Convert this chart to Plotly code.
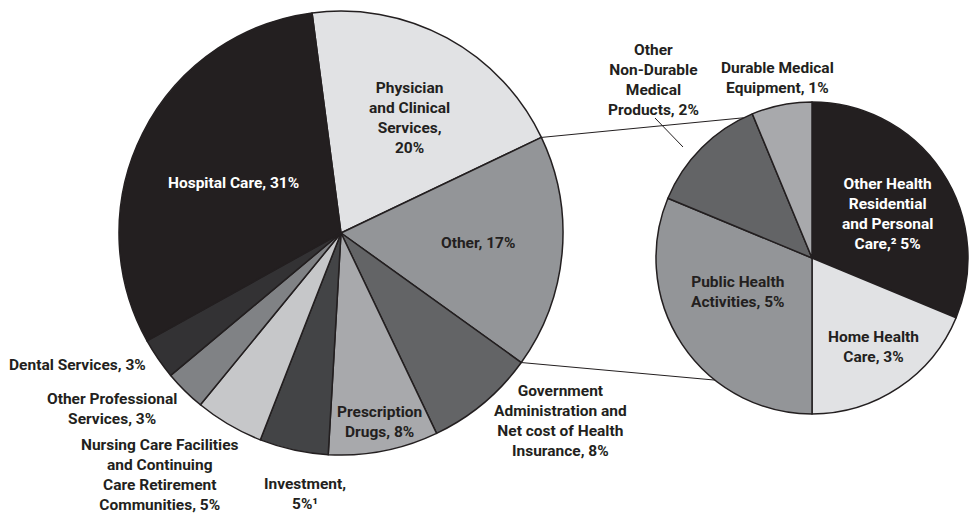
import math
import plotly.graph_objects as go

# National health expenditure shares (%)
main_labels = [
    "Physician and Clinical Services", "Other",
    "Government Administration and Net cost of Health Insurance",
    "Prescription Drugs", "Investment",
    "Nursing Care Facilities and Continuing Care Retirement Communities",
    "Other Professional Services", "Dental Services", "Hospital Care",
]
main_values = [20, 17, 8, 8, 5, 5, 3, 3, 31]
main_colors = ["#e1e2e4", "#939598", "#636466", "#a8a9ac", "#434446",
               "#c6c7c9", "#808285", "#333234", "#231f20"]

# Breakdown of the "Other" slice (%)
other_labels = [
    "Other Health Residential and Personal Care", "Home Health Care",
    "Public Health Activities", "Other Non-Durable Medical Products",
    "Durable Medical Equipment",
]
other_values = [5, 3, 5, 2, 1]
other_colors = ["#231f20", "#e1e2e4", "#939598", "#636466", "#a8a9ac"]

W, H = 975, 514
INK = "#231f20"

# pie geometry in pixels: centre x, centre y, radius
MAIN = (341, 233, 222)
SUB = (812, 258, 156)
MAIN_ROT = -7.5
SUB_ROT = 0


def domain(c):
    cx, cy, r = c
    return dict(x=[(cx - r) / W, (cx + r) / W],
                y=[(H - cy - r) / H, (H - cy + r) / H])


def rim(c, ang):
    cx, cy, r = c
    a = math.radians(ang)
    return cx + r * math.sin(a), cy - r * math.cos(a)


fig = go.Figure()
fig.add_trace(go.Pie(
    labels=main_labels, values=main_values, sort=False, direction="clockwise",
    rotation=MAIN_ROT, domain=domain(MAIN), textinfo="none",
    marker=dict(colors=main_colors, line=dict(color=INK, width=1.5)),
    showlegend=False,
))
fig.add_trace(go.Pie(
    labels=other_labels, values=other_values, sort=False, direction="clockwise",
    rotation=SUB_ROT, domain=domain(SUB), textinfo="none",
    marker=dict(colors=other_colors, line=dict(color=INK, width=1.5)),
    showlegend=False,
))

# connector lines from the edges of the "Other" slice to the breakdown pie
tot = sum(main_values)
idx = main_labels.index("Other")
a0 = MAIN_ROT + 360 * sum(main_values[:idx]) / tot
a1 = MAIN_ROT + 360 * sum(main_values[:idx + 1]) / tot
shapes = []
for a_main, a_sub in [(a0, 334), (a1, 218.5)]:
    x0, y0 = rim(MAIN, a_main)
    x1, y1 = rim(SUB, a_sub)
    shapes.append(dict(type="line", xref="paper", yref="paper",
                       x0=x0 / W, y0=1 - y0 / H, x1=x1 / W, y1=1 - y1 / H,
                       line=dict(color=INK, width=1)))
# leader for the small non-durable slice label
shapes.append(dict(type="line", xref="paper", yref="paper",
                   x0=655 / W, y0=1 - 118 / H, x1=683 / W, y1=1 - 147 / H,
                   line=dict(color=INK, width=1)))

labels = [
    ("Hospital Care, 31%", 233, 183, "white"),
    ("Physician<br>and Clinical<br>Services,<br>20%", 409, 118, INK),
    ("Other, 17%", 478, 243, INK),
    ("Government<br>Administration and<br>Net cost of Health<br>Insurance, 8%", 560, 421, INK),
    ("Prescription<br>Drugs, 8%", 379, 422, INK),
    ("Investment,<br>5%¹", 305, 494, INK),
    ("Nursing Care Facilities<br>and Continuing<br>Care Retirement<br>Communities, 5%", 160, 475, INK),
    ("Other Professional<br>Services, 3%", 112, 409, INK),
    ("Dental Services, 3%", 77, 365, INK),
    ("Other Health<br>Residential<br>and Personal<br>Care,² 5%", 887, 214, "white"),
    ("Home Health<br>Care, 3%", 873, 347, INK),
    ("Public Health<br>Activities, 5%", 737, 292, INK),
    ("Durable Medical<br>Equipment, 1%", 777, 78, INK),
    ("Other<br>Non-Durable<br>Medical<br>Products, 2%", 653, 80, INK),
]
annotations = [
    dict(text=t, x=x / W, y=1 - y / H, xref="paper", yref="paper",
         xanchor="center", yanchor="middle", align="center", showarrow=False,
         font=dict(family="Roboto", size=15.5, color=c, weight="bold"))
    for t, x, y, c in labels
]

fig.update_layout(
    width=W, height=H, margin=dict(l=0, r=0, t=0, b=0),
    paper_bgcolor="white", plot_bgcolor="white",
    shapes=shapes, annotations=annotations,
)
fig.write_html("out.html")
